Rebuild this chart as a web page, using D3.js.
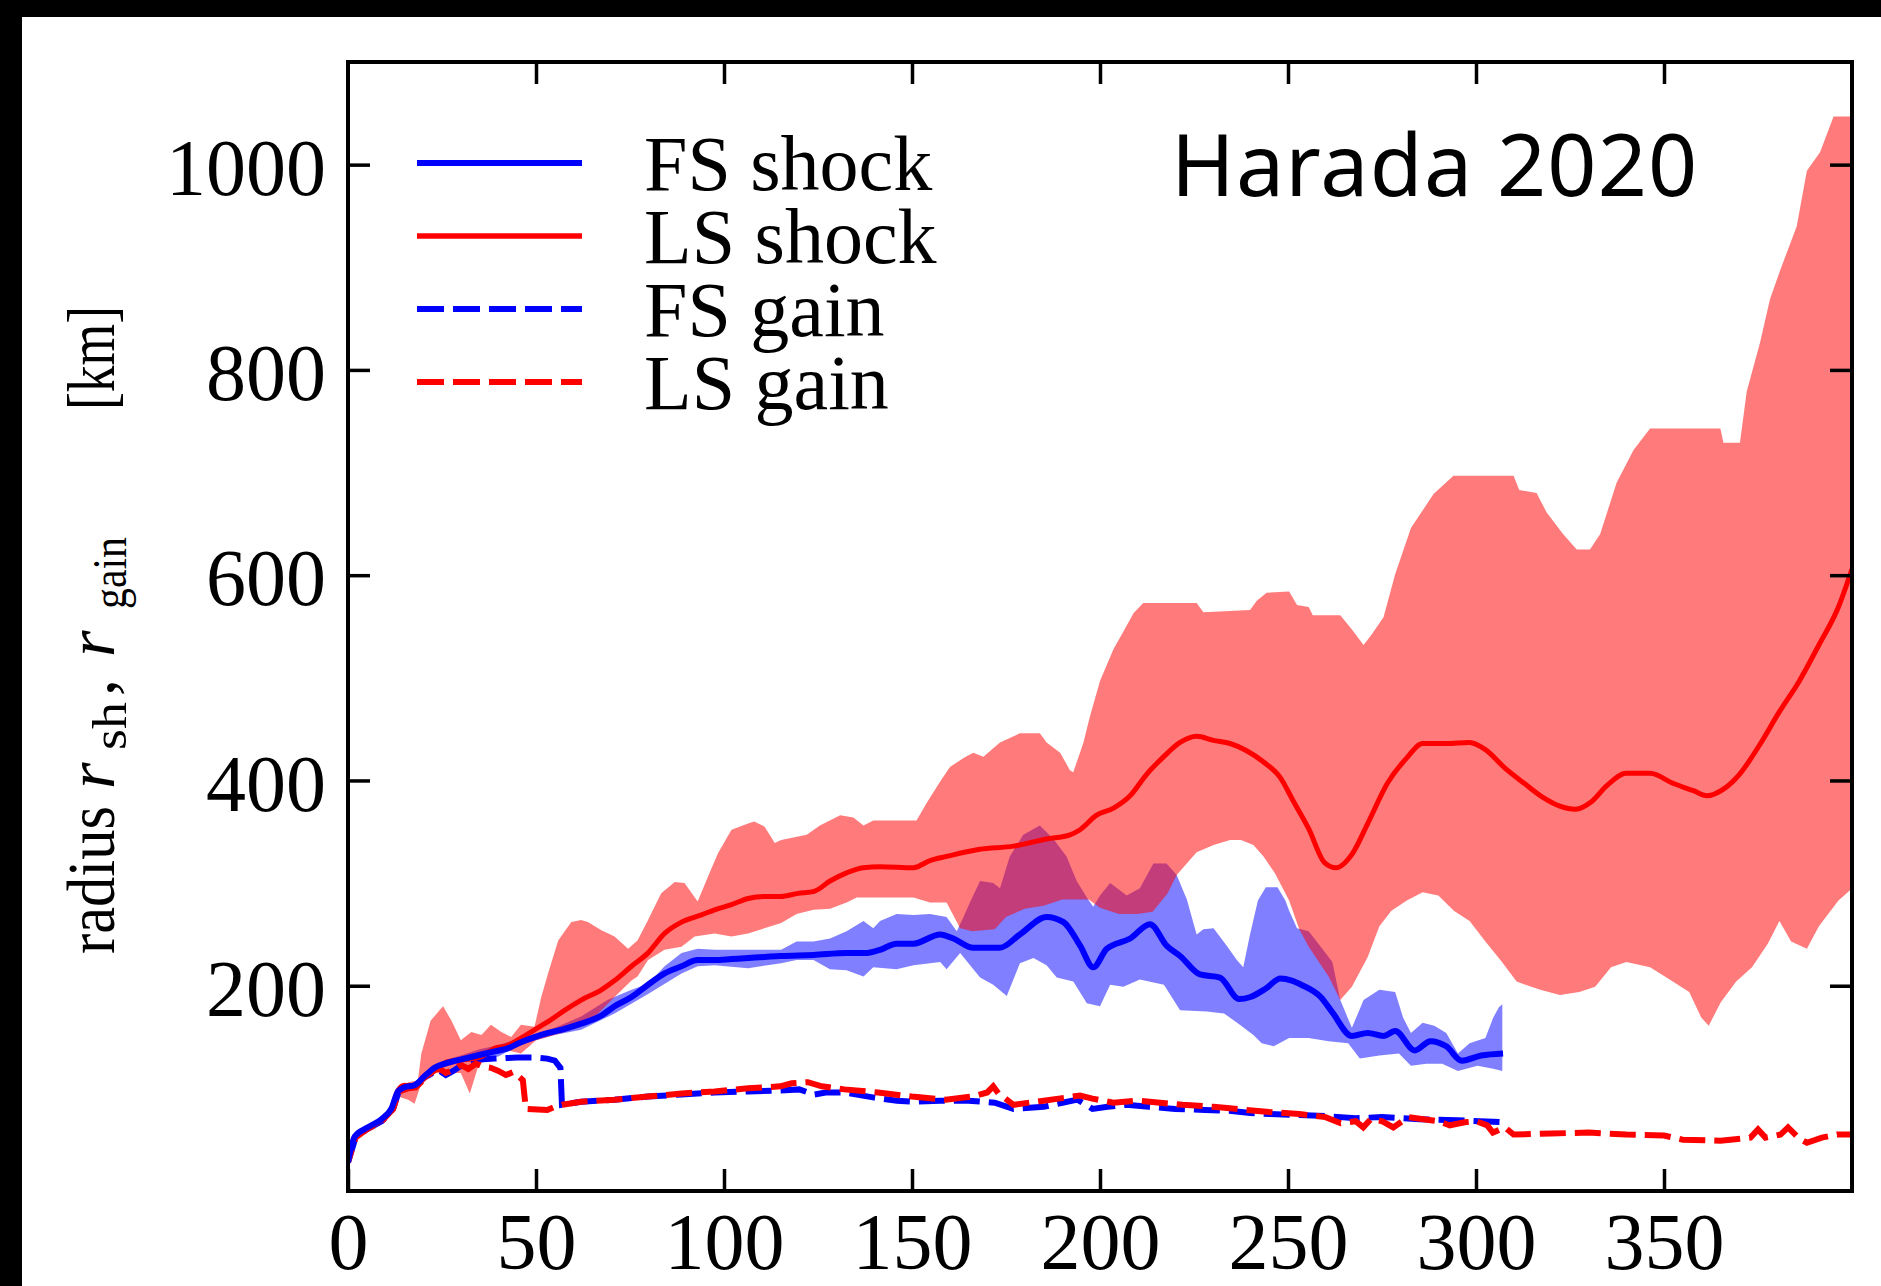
<!DOCTYPE html>
<html>
<head>
<meta charset="utf-8">
<script src="https://cdn.jsdelivr.net/npm/d3@7"></script>
<style>
  html, body { margin: 0; padding: 0; background: #000; }
  svg { display: block; }
</style>
</head>
<body>
<svg id="chart" width="1881" height="1286"></svg>
<script>
// ---- data: time after bounce [ms] vs radius [km] ----
const lsShock = [[0,28],[1.8,53],[5.3,61],[8.9,69],[11.5,79],[13.3,98],[15,103],[17.7,102],[20.4,110],[23,118],[26.6,126],[31,128],[35.5,131],[39,139],[42.5,142],[46,149],[49.6,157],[53.2,165],[57.6,176],[62,186],[67.4,196],[70.9,205],[75.4,219],[79.8,232],[84.2,251],[88.7,262],[94,269],[97.5,274],[102,279],[106.4,285],[110.8,287],[115,287],[119.7,290],[124,292],[128.2,302],[132.6,310],[137,315],[141.5,316],[150.4,315],[154.8,322],[159.2,326],[168,333],[177,336],[185.8,343],[192,347],[194.7,352],[199,366],[203.6,373],[208,385],[212.4,406],[216.9,423],[221.3,437],[225.7,443],[230.2,439],[234.6,436],[239,429],[243.5,418],[247.9,403],[251.4,380],[255.5,353],[259.7,320],[262.8,315],[267,328],[271.2,358],[276.4,397],[281.6,422],[285.8,436],[292,436],[298.3,437],[302.5,430],[307.7,412],[312.9,397],[318,383],[322.3,375],[326.5,372],[330.6,379],[334.8,395],[340,407],[346.3,407],[352.5,397],[357.8,390],[361.4,385],[366,392],[370.3,407],[375.5,435],[380.7,467],[386,497],[391.2,532],[396.4,569],[400,606]];

const fsShock = [[0,28],[1.8,53],[5.3,62],[8.9,70],[11.5,80],[13.3,97],[15,101],[17.7,103],[20.4,112],[23,120],[26.6,125],[31,129],[35.5,133],[39,136],[42.5,139],[46,145],[49.6,150],[53.2,154],[57.6,158],[62,163],[67.4,171],[70.9,180],[75.4,189],[79.8,201],[84.2,212],[88.7,219],[93,225],[97.5,225],[102,226],[106.4,227],[110.8,228],[115,229],[123.8,230],[132.6,232],[138,232],[141.5,235],[145.9,241],[150.4,241],[157.5,250],[161,246],[166.3,237],[173.4,237],[178.7,250],[185.8,267],[190.3,262],[194.7,239],[198.2,218],[201.8,236],[208,246],[213.3,260],[217.7,239],[221.3,229],[226.6,211],[231.9,208],[237,187],[240,189],[244,197],[248,207],[251,205],[253.5,201],[258.7,189],[261.8,174],[267,151],[271.2,154],[275.4,151],[278.5,156],[283.7,137],[287.9,146],[292.1,141],[296.2,127],[301.4,132],[307.2,134]];

const lsBandHi = [[0,32],[2,55],[5,63],[9,71],[11.5,82],[13.3,100],[16,106],[18.6,108],[19.5,134],[22,166],[24.8,178],[25.3,180],[27.5,166],[30,147],[32.8,155],[35.5,152],[38,162],[40.8,155],[43.4,150],[46,162],[49.6,160],[51.4,189],[53.2,212],[55.9,244],[59.4,262],[62,264],[63.8,262],[67.4,254],[70.9,248],[74.5,236],[77,244],[79.8,264],[83.3,290],[86.9,301],[89.5,300],[93,282],[95.7,306],[98.4,329],[102,352],[106.4,358],[108,360],[110.8,355],[113.5,339],[115.2,342],[122,347],[125.5,356],[130.9,366],[134.4,364],[137.1,356],[139.7,361],[151.2,361],[153.9,378],[157.5,399],[160.1,413],[163.7,422],[166.3,427],[169,423],[173.4,437],[178.7,446],[184,446],[185.8,437],[189.4,427],[192,410],[192.9,408],[195.6,437],[197.3,462],[200,497],[203.6,528],[206.2,545],[208.9,563],[211.5,573],[225.7,573],[227.5,564],[239.9,566],[241.7,575],[244.3,583],[250.3,584],[252.4,571],[255.5,569],[256.6,561],[263.9,561],[267,547],[270.1,532],[272.2,542],[275.4,559],[278.5,601],[282.7,646],[285.8,663],[288.7,679],[294,697],[310,697],[311.5,683],[316.1,680],[318.8,661],[323.2,640],[326.8,625],[330.3,625],[333,640],[337.4,690],[341.9,722],[346.3,743],[365,743],[365.8,729],[370.2,729],[372,779],[375.5,826],[378.2,869],[380.9,897],[385.3,940],[388,994],[391.5,1012],[395.1,1047],[401,1047]];

const lsBandLo = [[0,26],[2,50],[5,59],[9,67],[11.5,77],[13.3,92],[16,89],[17.7,85],[19.5,105],[23,115],[30,115],[32.4,95],[34.6,121],[38,134],[42.5,137],[46,134],[50,147],[53,150],[57.6,155],[62,160],[66.5,173],[70.9,189],[75.4,205],[77,209],[79.8,225],[84.2,235],[88.7,238],[92.2,248],[97.5,251],[102,248],[106.4,251],[115.2,261],[119.3,270],[123.8,274],[128.2,275],[132.6,281],[135.3,286],[150.4,286],[154.8,281],[159.2,281],[162.8,256],[166,253],[172,255],[175,267],[180,275],[185,278],[190,284],[197,284],[200,276],[205,270],[210,270],[214,272],[218,290],[220.4,308],[225.7,330],[230.2,337],[234.6,342],[237.5,342],[240.8,337],[243.5,326],[246.6,309],[250.3,283],[253,255],[255.5,238],[260.8,209],[263.9,186],[267,199],[271.2,228],[274.3,258],[277.5,273],[281.6,283],[285.8,291],[290,288],[294.1,273],[298.3,263],[302.5,243],[306.7,224],[310.8,204],[317.1,196],[322.3,191],[327.5,194],[331.7,199],[335.9,218],[340,223],[346.3,218],[351.5,206],[356.7,194],[359.9,169],[361.9,161],[365.1,184],[369.2,204],[373.4,218],[377.6,241],[380.7,263],[383.8,243],[388,236],[391.2,258],[396.4,283],[401,298]];

const fsBandHi = [[0,32],[2,55],[5,64],[9,72],[11.5,83],[13.3,100],[15,104],[18,106],[20,114],[23,123],[26,128],[30,132],[35,138],[40,142],[45,148],[50,153],[55,159],[62,170],[69,186],[75.4,196],[79.8,202],[84.2,219],[88.7,232],[93,236],[97.5,235],[106.4,235],[115.2,235],[119.3,243],[123.8,243],[128.2,246],[132.6,253],[137.1,263],[139.7,256],[141.5,263],[145.9,270],[150.4,269],[154.8,270],[159.2,267],[161.9,253],[163.7,267],[165.4,281],[168.1,302],[171.6,300],[173.4,295],[176,326],[179.6,347],[184,356],[187.6,343],[191.1,326],[193.8,302],[196.5,286],[198.2,277],[200,288],[202.7,300],[207.1,288],[210.6,295],[214.2,319],[217.7,319],[220.4,308],[223.1,284],[225.7,250],[227.5,255],[230.2,256],[233.7,239],[236.4,225],[238.1,218],[239.9,250],[242,283],[244.1,296],[247.2,296],[249.3,283],[250.3,273],[252.4,256],[255.5,253],[258.7,238],[261.8,223],[263.9,186],[267,159],[270.1,186],[274.3,196],[278.5,194],[280.6,169],[282.7,154],[285.8,164],[288.9,161],[292.1,154],[295.2,134],[298.3,144],[302.5,149],[304.6,169],[306.1,179],[307,182]];

const fsBandLo = [[0,26],[2,51],[5,59],[9,67],[11.5,77],[13.3,94],[15,98],[18,100],[20,108],[23,116],[26,121],[30,125],[35,128],[40,131],[45,141],[50,147],[55,152],[62,157],[70.9,173],[79.8,192],[88.7,212],[93,219],[97.5,220],[106.4,217],[115.2,222],[119.3,225],[123.8,225],[128.2,216],[132.6,215],[137.1,209],[139.7,218],[145.9,216],[150.4,220],[157.5,223],[159.2,216],[162.8,232],[168.1,208],[171.6,201],[175.2,190],[178.7,222],[182.3,227],[185.8,220],[188.5,208],[192.9,204],[196.5,183],[200,180],[202.7,201],[206.2,199],[210.6,206],[217,201],[221.3,176],[228.4,175],[233,173],[237.2,162],[240.8,152],[243,144],[246.2,141],[250.3,149],[255.5,149],[260.8,146],[266,144],[269.1,129],[274.3,132],[279.5,134],[282.7,122],[286.8,124],[291,124],[295.2,117],[300.4,122],[304.6,119],[307,117]];

const lsGain = [[0,28],[2,52],[5,60],[9,68],[12,80],[13.5,97],[16,100],[18,101],[20,108],[22,115],[24,120],[26,115],[28,118],[30,123],[32,119],[34,124],[36,121],[38,120],[40,117],[42,113],[44,116],[46.5,108],[47.3,80],[53,79],[55,82],[57,84],[62,87],[70.9,89],[79.8,92],[88.7,95],[97.5,97],[106.4,100],[115,102],[118,105],[122.3,106],[126,102],[132,99],[141,96],[150,92],[159,89],[166,92],[170,96],[171.6,102],[173,95],[177,84],[185,88],[189,90],[194.7,93],[198,90],[203.6,86],[210,88],[216,86],[222,84],[230.2,82],[239,79],[245,77],[253,75],[260,72],[264,66],[268,68],[270,62],[272,70],[275,68],[278,62],[282,72],[286,70],[290,68],[293,64],[297,67],[300,68],[303,64],[304.5,57],[307.7,62],[310,55],[320,56],[330,57],[340,55],[350,54],[355,50],[365,49],[373,52],[375,60],[377,52],[381,55],[383,62],[386,51],[388,47],[392,52],[396,55],[400,55]];

const fsGain = [[0,28],[2,52],[5,60],[9,68],[12,80],[13.5,97],[16,101],[18,103],[20,110],[22,114],[24,118],[26,113],[28,117],[30,122],[32,124],[35,128],[39,129],[45,130],[50,130],[53,129],[55,127],[56.5,120],[56.9,84],[62,87],[70.9,89],[79.8,92],[88.7,94],[97.5,96],[106.4,97],[115,98],[120,99],[124,94],[127,96],[132,96],[140,91],[146,88],[150,87],[157.5,88],[165,88],[172,86],[177,80],[185,82],[190,86],[194,89],[198,80],[202,82],[207,84],[213,82],[220,80],[228,79],[235,78],[240,76],[245,75],[253,74],[260,73],[268,71],[275,72],[285,70],[295,69],[307,67]];

const xTicks = [0, 50, 100, 150, 200, 250, 300, 350];
const yTicks = [200, 400, 600, 800, 1000];
const legendLabels = ["FS shock", "LS shock", "FS gain", "LS gain"];
const annotation = "Harada 2020";

// ---- layout ----
const W = 1881, H = 1286;
const plot = { left: 348, right: 1852, top: 62, bottom: 1191 };
const serif = "'Liberation Serif', 'Times New Roman', serif";
const RED = "#ff0000", BLUE = "#0000ff";

const svg = d3.select("#chart");
svg.append("rect").attr("width", W).attr("height", H).attr("fill", "#000");
svg.append("rect").attr("x", 22).attr("y", 17).attr("width", W - 22).attr("height", H - 17).attr("fill", "#fff");

const x = d3.scaleLinear().domain([0, 400]).range([plot.left, plot.right]);
const y = d3.scaleLinear().domain([0, 1100]).range([plot.bottom, plot.top]);

svg.append("defs").append("clipPath").attr("id", "plotClip")
  .append("rect").attr("x", plot.left).attr("y", plot.top)
  .attr("width", plot.right - plot.left).attr("height", plot.bottom - plot.top);

const g = svg.append("g").attr("clip-path", "url(#plotClip)");

const linear = d3.line().x(d => x(d[0])).y(d => y(d[1]));
const smooth = d3.line().x(d => x(d[0])).y(d => y(d[1])).curve(d3.curveMonotoneX);
const band = (hi, lo) => linear(hi.concat(lo.slice().reverse())) + "Z";

// spread bands: blue first, red translucent on top (purple where they overlap)
g.append("path").attr("d", band(fsBandHi, fsBandLo)).attr("fill", BLUE).attr("fill-opacity", 0.5);
g.append("path").attr("d", band(lsBandHi, lsBandLo)).attr("fill", RED).attr("fill-opacity", 0.52);

// gain radii (dashed)
g.append("path").attr("d", linear(fsGain)).attr("fill", "none").attr("stroke", BLUE)
  .attr("stroke-width", 6).attr("stroke-dasharray", "26,9");
g.append("path").attr("d", linear(lsGain)).attr("fill", "none").attr("stroke", RED)
  .attr("stroke-width", 6).attr("stroke-dasharray", "26,9").attr("stroke-dashoffset", 13);

// shock radii (solid)
g.append("path").attr("d", smooth(lsShock)).attr("fill", "none").attr("stroke", RED)
  .attr("stroke-width", 5).attr("stroke-linejoin", "round");
g.append("path").attr("d", smooth(fsShock)).attr("fill", "none").attr("stroke", BLUE)
  .attr("stroke-width", 6).attr("stroke-linejoin", "round");

// ---- axes: inward ticks on all four sides ----
const TICK = 22;
const styleAxis = sel => {
  sel.select(".domain").remove();
  sel.selectAll(".tick line").attr("stroke", "#000").attr("stroke-width", 3.5);
  sel.selectAll(".tick text").attr("font-family", serif).attr("font-size", 80).attr("fill", "#000");
};

svg.append("g").attr("transform", `translate(0,${plot.bottom})`)
  .call(d3.axisBottom(x).tickValues(xTicks).tickSize(-TICK).tickPadding(21).tickFormat(d3.format("d")))
  .call(styleAxis);
svg.append("g").attr("transform", `translate(0,${plot.top})`)
  .call(d3.axisTop(x).tickValues(xTicks.slice(1)).tickSize(-TICK).tickFormat(""))
  .call(styleAxis);
svg.append("g").attr("transform", `translate(${plot.left},0)`)
  .call(d3.axisLeft(y).tickValues(yTicks).tickSize(-TICK).tickPadding(22).tickFormat(d3.format("d")))
  .call(styleAxis)
  .selectAll(".tick text").attr("dy", "0.37em");
svg.append("g").attr("transform", `translate(${plot.right},0)`)
  .call(d3.axisRight(y).tickValues(yTicks).tickSize(-TICK).tickFormat(""))
  .call(styleAxis);

svg.append("rect").attr("x", plot.left).attr("y", plot.top)
  .attr("width", plot.right - plot.left).attr("height", plot.bottom - plot.top)
  .attr("fill", "none").attr("stroke", "#000").attr("stroke-width", 4);

// ---- legend ----
const legendStyle = [
  { color: BLUE, dash: null, width: 6 },
  { color: RED, dash: null, width: 5.5 },
  { color: BLUE, dash: "27,9", width: 6 },
  { color: RED, dash: "27,9", width: 6 }
];
const legend = svg.append("g");
legendLabels.forEach((label, i) => {
  const yl = 163 + i * 73;
  legend.append("line").attr("x1", 417).attr("x2", 582).attr("y1", yl).attr("y2", yl)
    .attr("stroke", legendStyle[i].color).attr("stroke-width", legendStyle[i].width)
    .attr("stroke-dasharray", legendStyle[i].dash);
  legend.append("text").attr("x", 644).attr("y", yl + 27).text(label)
    .attr("font-family", serif).attr("font-size", 78).attr("fill", "#000");
});

// ---- annotation ----
svg.append("text").attr("x", 1171).attr("y", 196).text(annotation)
  .attr("font-family", "'Noto Sans', sans-serif").attr("font-size", 86)
  .attr("letter-spacing", 1.2).attr("fill", "#000");

// ---- y-axis title: radius r_sh, r_gain [km] ----
const ylab = svg.append("g").attr("transform", "rotate(-90)")
  .attr("font-family", serif).attr("fill", "#000");
const yPieces = [
  { t: "radius", at: 954, base: 114, size: 68, italic: false, len: 148 },
  { t: "r", at: 789, base: 114, size: 68, italic: true, len: null },
  { t: "sh", at: 750, base: 126, size: 48, italic: false, len: 48 },
  { t: ",", at: 696, base: 114, size: 68, italic: false, len: null },
  { t: "r", at: 657, base: 114, size: 68, italic: true, len: null },
  { t: "gain", at: 609, base: 126, size: 48, italic: false, len: 72 },
  { t: "[km]", at: 410, base: 114, size: 68, italic: false, len: 104 }
];
yPieces.forEach(p => {
  const t = ylab.append("text").attr("x", -p.at).attr("y", p.base).text(p.t)
    .attr("font-size", p.size).attr("font-style", p.italic ? "italic" : "normal");
  if (p.len) t.attr("textLength", p.len).attr("lengthAdjust", "spacingAndGlyphs");
});
</script>
</body>
</html>
